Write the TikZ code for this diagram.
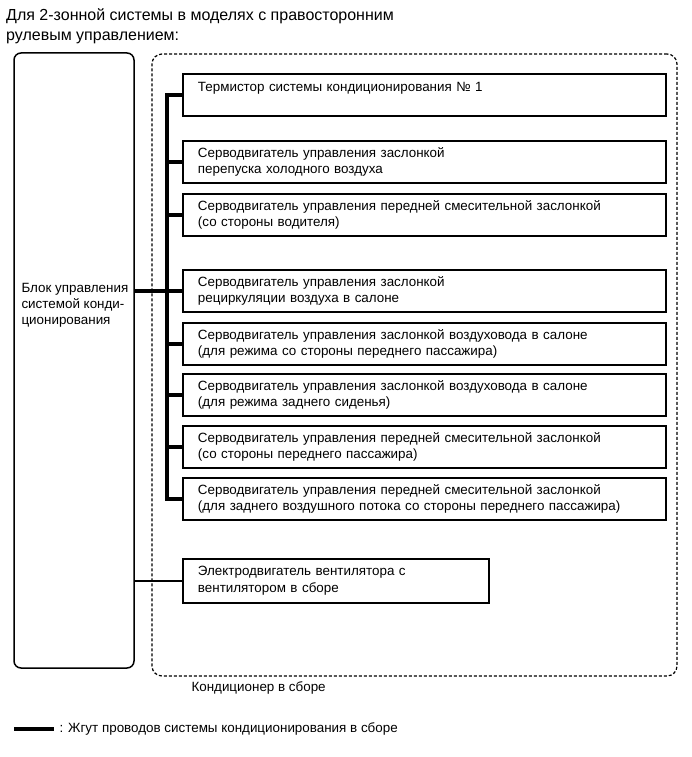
\documentclass[tikz,border=0pt]{standalone}
\usepackage{fontspec}
\setmainfont{Liberation Sans}
\usetikzlibrary{positioning}

\begin{document}
\begin{tikzpicture}[x=1pt, y=-1pt,
  part/.style={rectangle, draw, line width=1.9pt, anchor=north west, minimum height=42pt, text width=453pt, inner xsep=15pt, inner ysep=3pt, align=left, font=\fontsize{13.4}{16.5}\selectfont},
  harness/.style={line width=3.2pt},
  wire/.style={line width=1.1pt},
  lbl/.style={anchor=west, align=left, font=\fontsize{13.4}{16}\selectfont}]
\useasboundingbox (0,0) rectangle (691,757);
\node[anchor=north west, align=left, inner sep=0pt, font=\fontsize{16}{20}\selectfont] (title) at (6,8) {Для 2-зонной системы в моделях с правосторонним\\рулевым управлением:};
\node[draw, rounded corners=7pt, line width=1.5pt, minimum width=120pt, minimum height=615pt] (ecu) at (74,360.5) {};
\node[lbl] (ecutxt) at (18,305) {Блок управления\\системой конди-\\ционирования};
\node[draw, line width=1.2pt, dash pattern=on 3pt off 2pt, rounded corners=10pt, minimum width=525pt, minimum height=622pt] (ac) at (414.5,365) {};
\node[lbl] (aclbl) at (188,688) {Кондиционер в сборе};
\node[part] (b1) at (182,73) {Термистор системы кондиционирования № 1\\\mbox{}};
\node[part] (b2) at (182,140) {Серводвигатель управления заслонкой\\перепуска холодного воздуха};
\node[part] (b3) at (182,193) {Серводвигатель управления передней смесительной заслонкой\\(со стороны водителя)};
\node[part] (b4) at (182,269) {Серводвигатель управления заслонкой\\рециркуляции воздуха в салоне};
\node[part] (b5) at (182,322) {Серводвигатель управления заслонкой воздуховода в салоне\\(для режима со стороны переднего пассажира)};
\node[part] (b6) at (182,373) {Серводвигатель управления заслонкой воздуховода в салоне\\(для режима заднего сиденья)};
\node[part] (b7) at (182,425) {Серводвигатель управления передней смесительной заслонкой\\(со стороны переднего пассажира)};
\node[part] (b8) at (182,477) {Серводвигатель управления передней смесительной заслонкой\\(для заднего воздушного потока со стороны переднего пассажира)};
\node[part, text width=276pt, minimum height=44pt] (fan) at (182,558) {Электродвигатель вентилятора с\\вентилятором в сборе};
\coordinate (bus) at (167,0);
\draw[harness] (b1.west) -- (bus |- b1.west) -- (bus |- b8.west) -- (b8.west);
\foreach \b in {b2,b3,b5,b6,b7}
  \draw[harness] (bus |- \b.west) -- (\b.west);
\draw[harness] (ecu.east |- b4.west) -- (b4.west);
\draw[wire] (ecu.east |- fan.west) -- (fan.west);
\coordinate (lg1) at (14,729);
\coordinate (lg2) at (54,729);
\draw[harness] (lg1) -- (lg2);
\node[lbl] (lgtxt) at (56,729) {: Жгут проводов системы кондиционирования в сборе};
\end{tikzpicture}
\end{document}
